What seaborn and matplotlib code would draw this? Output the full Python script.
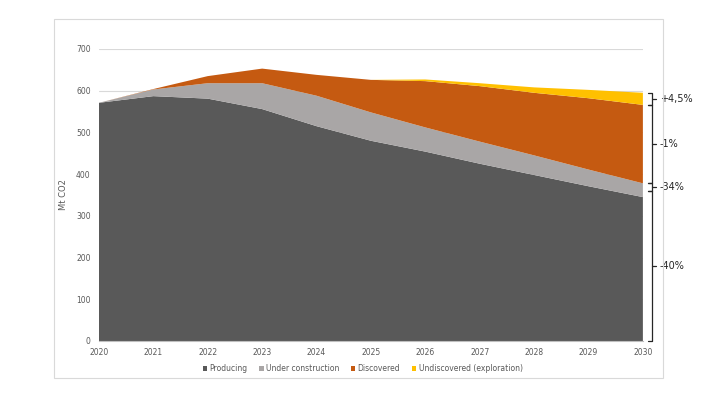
import numpy as np
import pandas as pd
import matplotlib
matplotlib.use("Agg")
import matplotlib.pyplot as plt
from matplotlib.patches import Rectangle, Patch
import seaborn as sns

sns.set_style("white")
plt.rcParams['font.family'] = ['DejaVu Sans']

# data (Mt CO2 per year)
years = [2020, 2021, 2022, 2023, 2024, 2025, 2026, 2027, 2028, 2029, 2030]
producing = [571, 587, 581, 556, 515, 480, 454, 425, 398, 371, 345]
under_construction = [0, 16, 37, 62, 73, 68, 58, 53, 47, 40, 33]
discovered = [0, 1, 17, 35, 50, 78, 111, 133, 150, 171, 188]
undiscovered = [0, 0, 0, 0, 0, 0, 4, 7, 13, 20, 29]

series_names = ["Producing", "Under construction", "Discovered", "Undiscovered (exploration)"]
series_colors = ["#595959", "#A9A6A6", "#C55A11", "#FFC000"]

# bracket annotations on the right (from, to, label)
brackets = [(566, 595, "+4,5%"), (378, 566, "-1%"), (360, 378, "-34%"), (0, 360, "-40%")]

df = pd.DataFrame({"year": years, "Producing": producing,
                   "Under construction": under_construction,
                   "Discovered": discovered,
                   "Undiscovered (exploration)": undiscovered})

fig = plt.figure(figsize=(7.11, 4), dpi=100)
ax = fig.add_axes([0.1392, 0.1475, 0.765, 0.73])

# outer frame like the exported chart area
fig.patches.append(Rectangle((54 / 711, 1 - 378 / 400), (663 - 54) / 711, (378 - 19) / 400,
                             transform=fig.transFigure, fill=False,
                             edgecolor="#D9D9D9", linewidth=0.8))

ax.stackplot(df["year"], *[df[n] for n in series_names],
             colors=series_colors, labels=series_names, linewidth=0, edgecolor="none", zorder=2)

ax.set_xlim(2020, 2030)
ax.set_ylim(0, 700)
ax.set_yticks(range(0, 701, 100))
ax.set_xticks(years)
ax.yaxis.grid(True, color="#D9D9D9", linewidth=0.8, zorder=0)
ax.set_axisbelow(True)
for side in ["left", "right", "top"]:
    ax.spines[side].set_visible(False)
ax.spines["bottom"].set_color("#BFBFBF")
ax.spines["bottom"].set_linewidth(0.8)
ax.tick_params(axis="x", length=3, color="#BFBFBF", labelsize=5.5, labelcolor="#595959", pad=2)
ax.tick_params(axis="y", length=0, labelsize=5.5, labelcolor="#595959", pad=6)
ax.set_ylabel("Mt CO2", fontsize=6, color="#595959", labelpad=6)

# right-hand brackets with percentage labels
xb = 2030.17
for lo, hi, txt in brackets:
    ax.plot([xb - 0.07, xb, xb, xb - 0.07], [hi, hi, lo, lo], color="#262626",
            linewidth=0.9, clip_on=False, zorder=5)
    mid = (lo + hi) / 2
    ax.plot([xb, xb + 0.07], [mid, mid], color="#262626", linewidth=0.9, clip_on=False)
    ax.text(xb + 0.14, mid, txt, fontsize=7, color="#262626", va="center", ha="left")

handles = [Patch(facecolor=c, edgecolor="none") for c in series_colors]
fig.legend(handles, series_names, loc="center", bbox_to_anchor=(0.51, 0.078), ncol=4,
           frameon=False, fontsize=5.5, handlelength=0.6, handleheight=0.6,
           handletextpad=0.3, columnspacing=1.5, labelcolor="#595959")

fig.savefig("out.png", dpi=100)
